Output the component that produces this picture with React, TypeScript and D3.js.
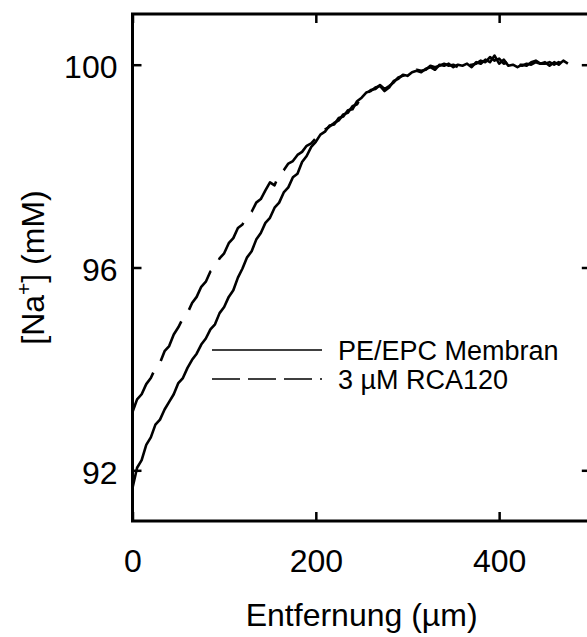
import React, { useEffect, useRef } from "react";
import { select, scaleLinear, axisBottom, axisLeft, axisTop, axisRight, line } from "d3";

// distance along the membrane (µm)
const distances = [
  0, 5, 10, 15, 20, 25, 30, 35, 40, 45, 50, 55, 60, 65, 70, 75, 80, 85, 90, 95,
  100, 105, 110, 115, 120, 125, 130, 135, 140, 145, 150, 155, 160, 165, 170, 175, 180, 185, 190, 195,
  200, 205, 210, 215, 220, 225, 230, 235, 240, 245, 250, 255, 260, 265, 270, 275, 280, 285, 290, 295,
  300, 305, 310, 315, 320, 325, 330, 335, 340, 345, 350, 355, 360, 365, 370, 375, 380, 385, 390, 395,
  400, 405, 410, 415, 420, 425, 430, 435, 440, 445, 450, 455, 460, 465, 470, 475,
];

// [Na+] (mM), PE/EPC membrane
const membranValues = [
  91.65, 92.05, 92.2, 92.5, 92.65, 92.9, 93.0, 93.2, 93.35, 93.5, 93.72, 93.82, 94.02, 94.18, 94.3, 94.48, 94.6, 94.78, 94.88, 95.1,
  95.22, 95.42, 95.55, 95.8, 95.98, 96.2, 96.32, 96.55, 96.68, 96.88, 96.98, 97.18, 97.28, 97.48, 97.58, 97.78, 97.85, 98.08, 98.2, 98.38,
  98.48, 98.62, 98.68, 98.8, 98.82, 98.95, 98.98, 99.1, 99.12, 99.28, 99.35, 99.45, 99.48, 99.55, 99.58, 99.48, 99.55, 99.68, 99.72, 99.8,
  99.78, 99.85, 99.88, 99.85, 99.92, 99.95, 99.9, 100.0, 99.98, 100.02, 99.95, 100.0, 99.98, 100.02, 99.95, 100.05, 100.02, 100.1, 100.05, 100.18,
  100.02, 100.1, 99.98, 100.0, 99.95, 100.0, 99.98, 100.05, 100.08, 100.02, 100.05, 99.98, 100.05, 100.0, 100.08, 100.02,
];

// [Na+] (mM), with 3 µM RCA120
const rcaValues = [
  93.15, 93.4, 93.5, 93.7, 93.82, 94.02, 94.12, 94.35, 94.45, 94.68, 94.82, 95.0, 95.1, 95.3, 95.42, 95.62, 95.72, 95.92, 96.0, 96.18,
  96.28, 96.48, 96.58, 96.78, 96.85, 97.02, 97.1, 97.28, 97.35, 97.52, 97.68, 97.62, 97.85, 97.92, 98.05, 98.1, 98.22, 98.28, 98.4, 98.45,
  98.55, 98.6, 98.72, 98.78, 98.85, 98.9, 99.02, 99.05, 99.18, 99.22, 99.38, 99.42, 99.5, 99.52, 99.6, 99.52, 99.58, 99.65, 99.75, 99.78,
  99.82, 99.82, 99.9, 99.88, 99.9, 99.98, 99.95, 99.98, 100.02, 99.98, 100.0, 99.95, 100.02, 99.98, 100.0, 100.02, 100.08, 100.05, 100.15, 100.08,
  100.12, 100.02, 100.05, 99.98, 100.02, 99.98, 100.02, 100.0, 100.05, 100.02, 100.02, 100.05, 100.0, 100.05, 100.02, 100.08,
];

const xTicks = [0, 200, 400];
const yTicks = [92, 96, 100];
const seriesNames = ["PE/EPC Membran", "3 µM RCA120"];

const FONT = "'Liberation Sans', Arial, sans-serif";

function App() {
  const svgRef = useRef(null);

  const width = 587;
  const height = 637;
  const margin = { left: 132.5, top: 14, right: 590.8, bottom: 521 };

  const xScale = scaleLinear().domain([0, 500]).range([margin.left, margin.right]);
  const yScale = scaleLinear().domain([91, 101]).range([margin.bottom, margin.top]);

  const lineGen = line()
    .x((d) => xScale(d[0]))
    .y((d) => yScale(d[1]));

  const membranData = distances.map((d, i) => [d, membranValues[i]]);
  const rcaData = distances.map((d, i) => [d, rcaValues[i]]);

  useEffect(() => {
    const svg = select(svgRef.current);

    // axes - ticks point inward, labels only bottom / left
    const xAxis = axisBottom(xScale).tickValues(xTicks).tickSizeInner(-9).tickSizeOuter(0);
    svg.select(".x-axis").attr("transform", `translate(0, ${margin.bottom})`).call(xAxis);

    const yAxis = axisLeft(yScale).tickValues(yTicks).tickSizeInner(-9).tickSizeOuter(0).tickPadding(15);
    svg.select(".y-axis").attr("transform", `translate(${margin.left}, 0)`).call(yAxis);

    const xTop = axisTop(xScale).tickValues(xTicks).tickSizeInner(-9).tickSizeOuter(0).tickFormat(() => "");
    svg.select(".x-top").attr("transform", `translate(0, ${margin.top})`).call(xTop);

    const yRight = axisRight(yScale).tickValues(yTicks).tickSizeInner(-9).tickSizeOuter(0).tickFormat(() => "");
    svg.select(".y-right").attr("transform", `translate(${margin.right}, 0)`).call(yRight);

    svg.selectAll(".domain").remove();
    svg.selectAll(".tick line").attr("stroke", "#000").attr("stroke-width", 2.5);
    svg.selectAll(".tick text")
      .attr("fill", "#000")
      .style("font-family", FONT)
      .style("font-size", "32px");
    svg.select(".y-axis").selectAll(".tick text").attr("dy", "0.4em");
    // baseline of the distance labels ~51px under the frame
    svg.select(".x-axis").selectAll(".tick text").attr("y", 51).attr("dy", 0);
  }, []);

  return (
    <svg
      ref={svgRef}
      width={width}
      height={height}
      style={{ position: "absolute", left: 0, top: 0, background: "#fff" }}
    >
      <rect x={0} y={0} width={width} height={height} fill="#fff" />

      {/* data */}
      <path d={lineGen(membranData)} fill="none" stroke="#000" strokeWidth={2.6} strokeLinejoin="round" />
      <path
        d={lineGen(rcaData)}
        fill="none"
        stroke="#000"
        strokeWidth={2.6}
        strokeLinejoin="round"
        strokeDasharray="45,14"
      />

      {/* frame */}
      <rect
        x={margin.left}
        y={margin.top}
        width={margin.right - margin.left}
        height={margin.bottom - margin.top}
        fill="none"
        stroke="#000"
        strokeWidth={3}
      />
      <g className="x-axis" />
      <g className="y-axis" />
      <g className="x-top" />
      <g className="y-right" />

      {/* legend */}
      <g fontFamily={FONT} fontSize={27}>
        <line x1={212} x2={322} y1={350} y2={350} stroke="#000" strokeWidth={1.5} />
        <text x={338} y={350} dy="0.36em">{seriesNames[0]}</text>
        <line x1={212} x2={322} y1={379} y2={379} stroke="#000" strokeWidth={1.5} strokeDasharray="28,8" />
        <text x={338} y={379} dy="0.36em">{seriesNames[1]}</text>
      </g>

      {/* axis titles */}
      <text
        x={(margin.left + margin.right) / 2}
        y={626}
        textAnchor="middle"
        fontFamily={FONT}
        fontSize={32}
      >
        Entfernung (µm)
      </text>
      <text
        transform={`translate(44, ${(margin.top + margin.bottom) / 2}) rotate(-90)`}
        textAnchor="middle"
        fontFamily={FONT}
        fontSize={32}
      >
        [Na
        <tspan fontSize={21} dy={-13}>+</tspan>
        <tspan dy={13}>] (mM)</tspan>
      </text>
    </svg>
  );
}

export default App;
